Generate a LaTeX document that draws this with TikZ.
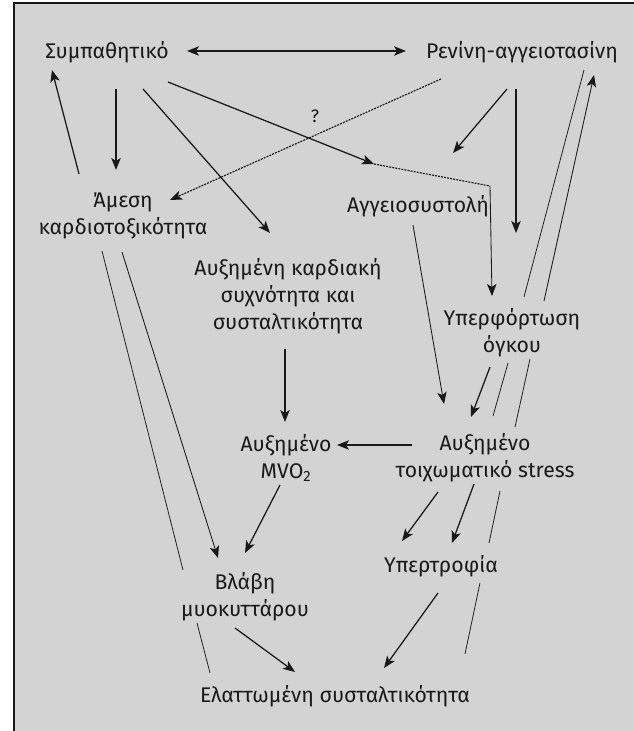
\documentclass[tikz,border=0pt]{standalone}
\usepackage{fontspec}
\setmainfont{Fira Sans}
\usetikzlibrary{arrows.meta}
\definecolor{bg}{RGB}{211,211,211}
\definecolor{ink}{RGB}{25,25,25}
\begin{document}
\begin{tikzpicture}[x=1pt,y=-1pt,
  lbl/.style={font=\fontsize{21.2}{27}\selectfont, align=center, inner sep=0pt, text=ink},
  arr/.style={draw=ink, line width=1.25pt, -{Stealth[length=12pt,width=9.5pt,inset=3pt]}},
  darr/.style={draw=ink, line width=1.3pt, {Stealth[length=12pt,width=9.5pt,inset=3pt]}-{Stealth[length=12pt,width=9.5pt,inset=3pt]}},
  thinline/.style={draw=ink, line width=0.75pt},
  thinarr/.style={draw=ink, line width=0.85pt, -{Stealth[length=12pt,width=9.5pt,inset=3pt]}},
  dotline/.style={draw=ink, line width=1.15pt, dash pattern=on 2pt off 1.1pt},
  dotarr/.style={draw=ink, line width=1.15pt, dash pattern=on 2pt off 1.1pt, -{Stealth[length=12pt,width=9.5pt,inset=3pt]}}]
\useasboundingbox (0,0) rectangle (634,731);
\fill[bg] (13,3) rectangle (634,731);
\draw[ink, line width=2pt] (13.5,731) -- (13.5,2.5) -- (634,2.5);

% nodes
\node[lbl] (symp) at (107,52) {Συμπαθητικό};
\node[lbl] (renin) at (522,52) {Ρενίνη-αγγειοτασίνη};
\node[lbl] (amesi) at (123,216) {Άμεση\\καρδιοτοξικότητα};
\node[lbl] (aggeio) at (418,206) {Αγγειοσυστολή};
\node[lbl] (auxk) at (288,296) {Αυξημένη καρδιακή\\συχνότητα και\\συσταλτικότητα};
\node[lbl] (yperf) at (512,333) {Υπερφόρτωση\\όγκου};
\node[lbl] (mvo) at (286,458) {Αυξημένο\\MVO\textsubscript{2}};
\node[lbl] (stress) at (485,458) {Αυξημένο\\τοιχωματικό stress};
\node[lbl] (vlavi) at (245,597) {Βλάβη\\μυοκυττάρου};
\node[lbl] (ypertr) at (441,566) {Υπερτροφία};
\node[lbl] (elat) at (335,696) {Ελαττωμένη συσταλτικότητα};
\node[lbl, font=\fontsize{18}{22}\selectfont] (q) at (315,116) {?};

% named end points
\coordinate (sR) at (187,51);  \coordinate (rL) at (406,51);
\coordinate (s1) at (116,89);  \coordinate (a1) at (116,170);
\coordinate (a2) at (79,174);  \coordinate (s2) at (52,70);
\coordinate (s3) at (143,89);  \coordinate (k1) at (270,233);
\coordinate (s4) at (168,82);  \coordinate (j1) at (374,164);
\coordinate (j2) at (490,186); \coordinate (y1) at (492,296);
\coordinate (r1) at (441,79);  \coordinate (a3) at (170,200);
\coordinate (r2) at (507,89);  \coordinate (g1) at (453,153);
\coordinate (r3) at (516,89);  \coordinate (y2) at (516,233);
\coordinate (rA) at (584,70);  \coordinate (yA1) at (524,297);
\coordinate (yA2) at (508,363); \coordinate (tA) at (493,416);
\coordinate (rB) at (594,75);  \coordinate (yB1) at (544,301);
\coordinate (yB2) at (530,359); \coordinate (tB1) at (515,427);
\coordinate (tB2) at (500,491); \coordinate (pB1) at (489,543);
\coordinate (pB2) at (480,583); \coordinate (eB) at (465,654);
\coordinate (g2) at (413,225); \coordinate (t1) at (444,404);
\coordinate (y3) at (490,367); \coordinate (t2) at (471,417);
\coordinate (t3) at (412,445); \coordinate (m1) at (337,445);
\coordinate (k2) at (285,349); \coordinate (m2) at (285,422);
\coordinate (m3) at (280,485); \coordinate (v1) at (245,553);
\coordinate (a4) at (122,252); \coordinate (v2) at (218,558);
\coordinate (a5) at (102,251); \coordinate (vL1) at (183,570);
\coordinate (vL2) at (197,623); \coordinate (eL) at (210,673);
\coordinate (v3) at (235,628); \coordinate (e1) at (295,672);
\coordinate (t4) at (438,492); \coordinate (p1) at (402,541);
\coordinate (t5) at (474,484); \coordinate (p2) at (452,543);
\coordinate (p3) at (438,593); \coordinate (e2) at (384,668);

% connectors
\draw[darr] (sR) -- (rL);
\draw[arr] (s1) -- (a1);
\draw[arr] (a2) -- (s2);
\draw[arr] (s3) -- (k1);
\draw[arr] (s4) -- (j1);
\draw[dotline] (j1) -- (j2);
\draw[thinarr] (j2) -- (y1);
\draw[dotarr] (r1) -- (a3);
\draw[arr] (r2) -- (g1);
\draw[arr] (r3) -- (y2);
\draw[thinline] (rA) -- (yA1);
\draw[thinline] (yA2) -- (tA);
\draw[thinarr] (yB1) -- (rB);
\draw[thinline] (yB2) -- (tB1);
\draw[thinline] (tB2) -- (pB1);
\draw[thinline] (pB2) -- (eB);
\draw[thinarr] (g2) -- (t1);
\draw[arr] (y3) -- (t2);
\draw[arr] (t3) -- (m1);
\draw[arr] (k2) -- (m2);
\draw[arr] (m3) -- (v1);
\draw[thinarr] (a4) -- (v2);
\draw[thinline] (a5) -- (vL1);
\draw[thinline] (vL2) -- (eL);
\draw[arr] (v3) -- (e1);
\draw[arr] (t4) -- (p1);
\draw[arr] (t5) -- (p2);
\draw[arr] (p3) -- (e2);
\end{tikzpicture}
\end{document}
